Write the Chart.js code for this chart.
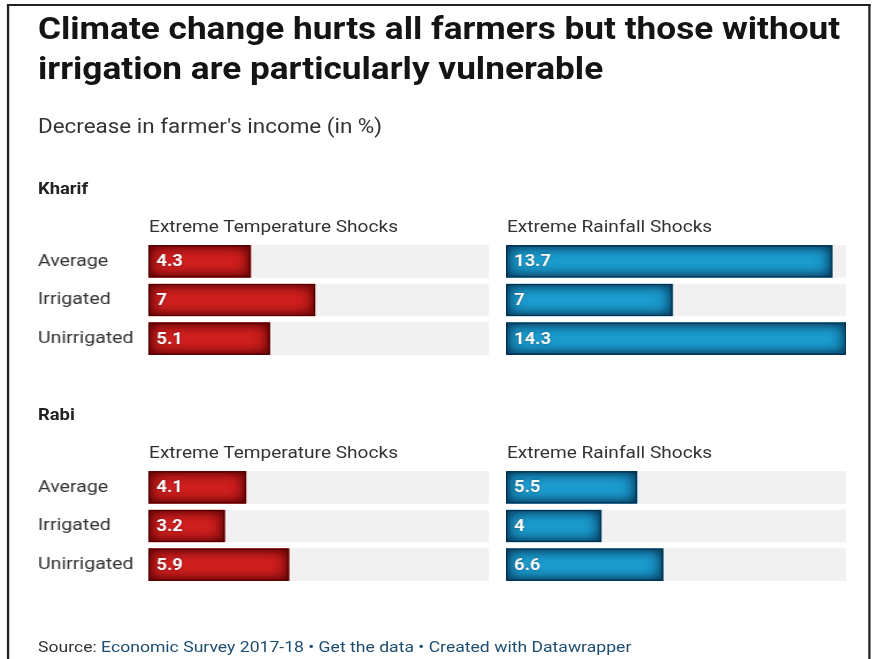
<!DOCTYPE html>
<html>
<head>
<meta charset="utf-8">
<script src="https://cdn.jsdelivr.net/npm/chart.js@4/dist/chart.umd.min.js"></script>
<style>
  html, body { margin: 0; padding: 0; background: #fff; overflow: hidden; }
  body { width: 873px; height: 659px; }
  #page {
    position: absolute; left: 0; top: 0;
    width: 759px; height: 659px;
    transform: scaleX(1.15); transform-origin: 0 0;
    font-family: Roboto, "Noto Sans", sans-serif;
  }
  .frame {
    position: absolute; left: 5.6px; top: 4px; width: 751px; height: 700px;
    border: 2px solid #222; border-bottom: none; box-sizing: border-box;
  }
  .t { position: absolute; white-space: nowrap; line-height: 1; color: #333; }
  .title { font-weight: 700; font-size: 30.6px; color: #141414; }
  .sub { font-size: 19.5px; color: #333; }
  .sec { font-weight: 700; font-size: 16px; color: #222; }
  .head { font-size: 16.6px; color: #333; }
  .foot { font-size: 15.3px; color: #333; }
  .foot span { color: #1d4d70; }
  canvas { position: absolute; }
</style>
</head>
<body>
<div id="page">
  <div class="frame"></div>
  <div class="t title" style="left:33px; top:14.2px">Climate change hurts all farmers but those without</div>
  <div class="t title" style="left:33px; top:54.2px">irrigation are particularly vulnerable</div>
  <div class="t sub" style="left:33px; top:116.6px">Decrease in farmer's income (in %)</div>

  <div class="t sec" style="left:33px; top:180.5px">Kharif</div>
  <div class="t head" style="left:129.6px; top:219px">Extreme Temperature Shocks</div>
  <div class="t head" style="left:440.9px; top:219px">Extreme Rainfall Shocks</div>
  <canvas id="kharifTemp" width="392" height="116" style="left:33px; top:241.5px"></canvas>
  <canvas id="kharifRain" width="296" height="116" style="left:440px; top:241.5px"></canvas>

  <div class="t sec" style="left:33px; top:406.5px">Rabi</div>
  <div class="t head" style="left:129.6px; top:445px">Extreme Temperature Shocks</div>
  <div class="t head" style="left:440.9px; top:445px">Extreme Rainfall Shocks</div>
  <canvas id="rabiTemp" width="392" height="116" style="left:33px; top:468px"></canvas>
  <canvas id="rabiRain" width="296" height="116" style="left:440px; top:468px"></canvas>

  <div class="t foot" style="left:33px; top:640px">Source: <span>Economic Survey 2017-18 • Get the data • Created with Datawrapper</span></div>
</div>

<script>
// Farmer income loss (%) by irrigation status
const categories = ['Average', 'Irrigated', 'Unirrigated'];
const kharifTemperature = [4.3, 7, 5.1];
const kharifRainfall = [13.7, 7, 14.3];
const rabiTemperature = [4.1, 3.2, 5.9];
const rabiRainfall = [5.5, 4, 6.6];

// Shared scale so every panel uses the same length per percentage point
const scaleMax = Math.max(...kharifTemperature, ...kharifRainfall, ...rabiTemperature, ...rabiRainfall);

const RED = { fill: '#d42020', edge: 'rgba(80,0,0,1)' };
const BLUE = { fill: '#1c9fd2', edge: 'rgba(4,46,76,1)' };

// Inner shading on each value bar plus the white value label at its start
const barDecor = {
  id: 'barDecor',
  afterDatasetsDraw(chart) {
    const ctx = chart.ctx;
    const meta = chart.getDatasetMeta(1);
    const pal = chart.options.plugins.barDecor.palette;
    meta.data.forEach((bar, i) => {
      const p = bar.getProps(['x', 'y', 'base', 'height'], true);
      const l = p.base, t = p.y - p.height / 2, w = p.x - p.base, h = p.height;
      ctx.save();
      ctx.beginPath();
      ctx.rect(l, t, w, h);
      ctx.clip();
      ctx.shadowColor = pal.edge;
      ctx.lineWidth = 10;
      ctx.strokeStyle = pal.edge;
      ctx.shadowBlur = 16;
      ctx.strokeRect(l - 5, t - 5, w + 10, h + 10);
      ctx.shadowBlur = 8;
      ctx.strokeRect(l - 5, t - 5, w + 10, h + 10);
      ctx.shadowBlur = 0;
      ctx.lineWidth = 1.2;
      ctx.strokeStyle = pal.edge;
      ctx.strokeRect(l + 0.5, t + 0.5, w - 1, h - 1);
      ctx.restore();

      const v = chart.data.datasets[1].data[i];
      ctx.save();
      ctx.font = '700 16px Roboto, sans-serif';
      ctx.fillStyle = '#ffffff';
      ctx.textBaseline = 'middle';
      ctx.shadowColor = 'rgba(0,0,0,0.5)';
      ctx.shadowBlur = 2;
      ctx.fillText(String(v), l + 7, p.y + 1);
      ctx.restore();
    });
  }
};

function panel(id, values, pal, showLabels) {
  new Chart(document.getElementById(id), {
    type: 'bar',
    data: {
      labels: categories,
      datasets: [
        {
          label: 'track',
          data: categories.map(() => scaleMax),
          backgroundColor: '#f1f1f1',
          barThickness: 32,
          grouped: false,
          order: 2
        },
        {
          label: 'value',
          data: values,
          backgroundColor: pal.fill,
          barThickness: 32,
          grouped: false,
          order: 1
        }
      ]
    },
    options: {
      indexAxis: 'y',
      responsive: false,
      animation: false,
      devicePixelRatio: 1,
      layout: { padding: 0 },
      scales: {
        x: { display: false, min: 0, max: scaleMax },
        y: {
          display: showLabels,
          grid: { display: false, drawTicks: false },
          border: { display: false },
          ticks: {
            crossAlign: 'far',
            padding: 0,
            color: '#333',
            font: { family: 'Roboto', size: 17 }
          },
          afterFit(scale) {
            if (showLabels) scale.width = 96;
            scale.paddingTop = 0;
            scale.paddingBottom = 0;
          }
        }
      },
      plugins: {
        legend: { display: false },
        tooltip: { enabled: false },
        barDecor: { palette: pal }
      }
    },
    plugins: [barDecor]
  });
}

panel('kharifTemp', kharifTemperature, RED, true);
panel('kharifRain', kharifRainfall, BLUE, false);
panel('rabiTemp', rabiTemperature, RED, true);
panel('rabiRain', rabiRainfall, BLUE, false);
</script>
</body>
</html>
